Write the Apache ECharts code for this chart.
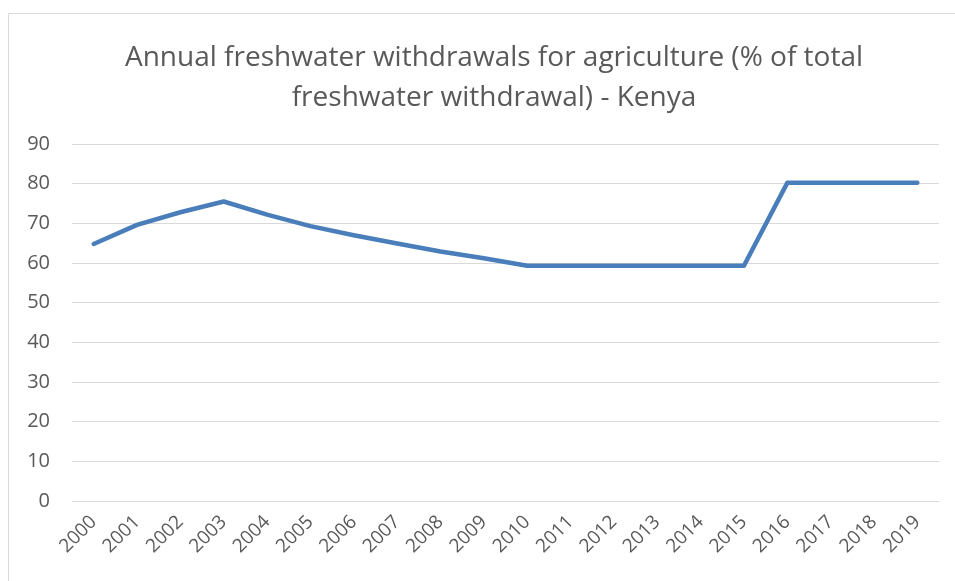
<!DOCTYPE html>
<html>
<head>
<meta charset="utf-8">
<script src="https://cdn.jsdelivr.net/npm/echarts@6/dist/echarts.min.js"></script>
<style>html,body{margin:0;padding:0;background:#fff}#c{width:955px;height:581px}</style>
</head>
<body>
<div id="c"></div>
<script>
const years = ['2000','2001','2002','2003','2004','2005','2006','2007','2008','2009','2010','2011','2012','2013','2014','2015','2016','2017','2018','2019'];
const values = [64.8, 69.6, 72.8, 75.5, 72.2, 69.3, 67.0, 64.9, 62.9, 61.2, 59.3, 59.3, 59.3, 59.3, 59.3, 59.3, 80.2, 80.2, 80.2, 80.2];
const yTicks = { min: 0, max: 90, interval: 10 };
const titleText = 'Annual freshwater withdrawals for agriculture (% of total\nfreshwater withdrawal) - Kenya';

const chart = echarts.init(document.getElementById('c'), null, {renderer: 'canvas'});
chart.setOption({
  animation: false,
  backgroundColor: '#fff',
  graphic: [{
    type: 'rect', silent: true,
    shape: {x: 8.5, y: 13.5, width: 960, height: 600},
    style: {fill: 'none', stroke: '#d9d9d9', lineWidth: 1}
  }],
  title: {
    text: titleText,
    left: 489, top: 33, textAlign: 'center',
    textStyle: {fontFamily: 'Open Sans', fontSize: 28, fontWeight: 'normal', color: '#595959', lineHeight: 40, align: 'center'}
  },
  grid: {left: 72, right: 16, top: 144, bottom: 80, containLabel: false},
  xAxis: {
    type: 'category', data: years, boundaryGap: true,
    axisLine: {show: false}, axisTick: {show: false},
    axisLabel: {rotate: 45, margin: 18, color: '#595959', fontSize: 19, fontFamily: 'Open Sans', interval: 0}
  },
  yAxis: {
    type: 'value', min: yTicks.min, max: yTicks.max, interval: yTicks.interval,
    axisLine: {show: false}, axisTick: {show: false},
    axisLabel: {margin: 22, color: '#595959', fontSize: 20, fontFamily: 'Open Sans'},
    splitLine: {lineStyle: {color: '#d9d9d9', width: 1}}
  },
  series: [{
    type: 'line', data: values, showSymbol: false, symbol: 'none',
    lineStyle: {color: '#4a7ebb', width: 4.5, cap: 'round', join: 'round'},
    itemStyle: {color: '#4a7ebb'}
  }]
});
</script>
</body>
</html>
